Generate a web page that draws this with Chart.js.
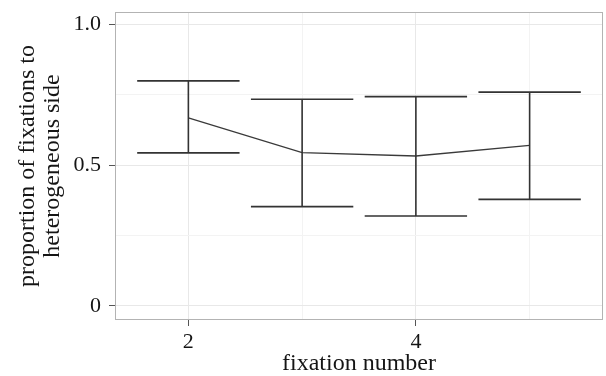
<!DOCTYPE html>
<html><head><meta charset="utf-8">
<script src="https://cdn.jsdelivr.net/npm/chart.js@4/dist/chart.umd.min.js"></script>
<style>html,body{margin:0;padding:0;background:#fff}</style>
</head><body>
<canvas id="c" width="606" height="376" style="width:606px;height:376px;display:block"></canvas>
<script>
const fixationNumbers = [2, 3, 4, 5];
const meanProportion = [0.669, 0.545, 0.533, 0.571];
const upperCI = [0.800, 0.735, 0.744, 0.760];
const lowerCI = [0.544, 0.353, 0.320, 0.379];
const yTickValues = [0, 0.25, 0.5, 0.75, 1];
const yTickLabels = {0: '0', 0.5: '0.5', 1: '1.0'};
const xTickValues = [2, 3, 4, 5];
const xTickLabels = {2: '2', 4: '4'};

const CAP = 0.45;
const errPoints = [];
fixationNumbers.forEach((x, i) => {
  errPoints.push({x: x - CAP, y: upperCI[i]}, {x: x + CAP, y: upperCI[i]}, {x: x, y: null});
  errPoints.push({x: x, y: upperCI[i]}, {x: x, y: lowerCI[i]}, {x: x, y: null});
  errPoints.push({x: x - CAP, y: lowerCI[i]}, {x: x + CAP, y: lowerCI[i]}, {x: x, y: null});
});
const meanPoints = fixationNumbers.map((x, i) => ({x: x, y: meanProportion[i]}));

const FAMILY = '"Liberation Serif", "Times New Roman", serif';
const TICKFONT = {family: FAMILY, size: 22, lineHeight: 1.1};
const TXT = '#151515';

const borderPlugin = {
  id: 'panelBorder',
  beforeDatasetsDraw(chart) {
    const a = chart.chartArea, ctx = chart.ctx;
    ctx.save();
    ctx.strokeStyle = '#b3b3b3';
    ctx.lineWidth = 1;
    ctx.strokeRect(a.left + 0.5, a.top + 0.5, a.right - a.left - 1, a.bottom - a.top - 1);
    ctx.restore();
  }
};

new Chart(document.getElementById('c'), {
  type: 'line',
  data: {
    datasets: [
      {data: errPoints, borderColor: '#333', borderWidth: 1.6, pointRadius: 0, spanGaps: false, tension: 0},
      {data: meanPoints, borderColor: '#3a3a3a', borderWidth: 1.3, pointRadius: 0, tension: 0}
    ]
  },
  options: {
    responsive: false,
    animation: false,
    devicePixelRatio: 1,
    layout: {padding: {left: 0, right: 3, top: 12, bottom: 0}},
    plugins: {legend: {display: false}, tooltip: {enabled: false}},
    scales: {
      x: {
        type: 'linear', min: 1.355, max: 5.645,
        afterBuildTicks: s => { s.ticks = xTickValues.map(v => ({value: v})); },
        afterFit: s => { s.height = 56; s.paddingLeft = 0; s.paddingRight = 0; },
        ticks: {
          callback: v => xTickLabels[v] ?? '',
          font: TICKFONT, color: TXT, padding: 4, maxRotation: 0, autoSkip: false
        },
        grid: {
          color: c => (c.tick && xTickLabels[c.tick.value] !== undefined) ? '#e8e8e8' : '#f3f3f3',
          tickColor: c => (c.tick && xTickLabels[c.tick.value] !== undefined) ? '#555' : 'rgba(0,0,0,0)',
          tickLength: 6, lineWidth: 1
        },
        border: {display: false},
        title: {display: true, text: 'fixation number', font: {family: FAMILY, size: 24, lineHeight: 1.0}, color: TXT, padding: {top: 0, bottom: 0}}
      },
      y: {
        type: 'linear', min: -0.05, max: 1.045,
        afterBuildTicks: s => { s.ticks = yTickValues.map(v => ({value: v})); },
        afterFit: s => { s.width = 115; s.paddingTop = 0; s.paddingBottom = 0; },
        ticks: {
          callback: v => yTickLabels[v] ?? '',
          font: TICKFONT, color: TXT, padding: 8, autoSkip: false
        },
        grid: {
          color: c => (c.tick && yTickLabels[c.tick.value] !== undefined) ? '#e8e8e8' : '#f3f3f3',
          tickColor: c => (c.tick && yTickLabels[c.tick.value] !== undefined) ? '#555' : 'rgba(0,0,0,0)',
          tickLength: 6, lineWidth: 1
        },
        border: {display: false},
        title: {display: true, text: ['proportion of fixations to', 'heterogeneous side'], font: {family: FAMILY, size: 24, lineHeight: 1.05}, color: TXT, padding: {top: 15, bottom: 0}}
      }
    }
  },
  plugins: [borderPlugin]
});
</script>
</body></html>
